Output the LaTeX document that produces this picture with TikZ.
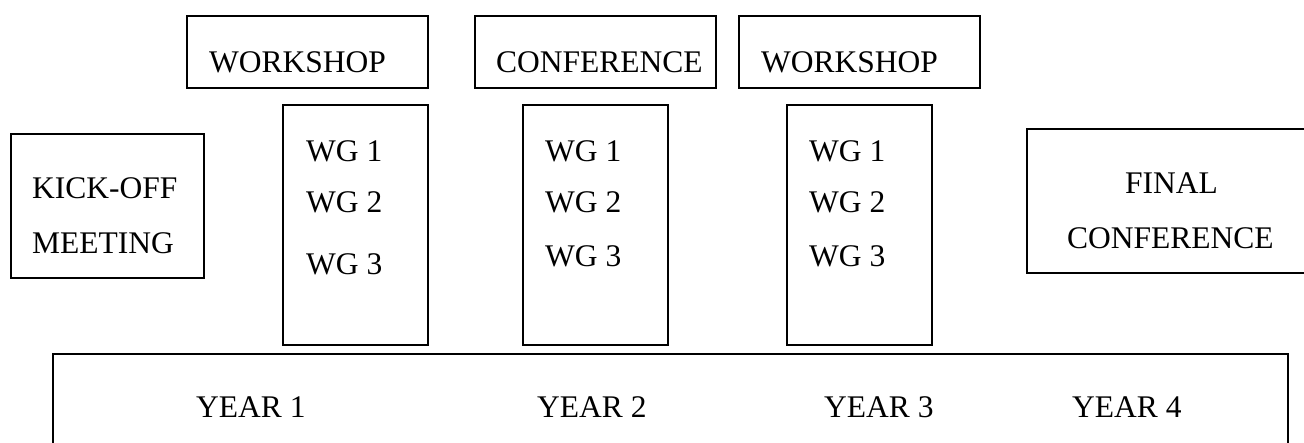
\documentclass[tikz,border=0pt]{standalone}
\usepackage{fontspec}
\setmainfont{Liberation Serif}
\begin{document}
\begin{tikzpicture}[x=1pt,y=-1pt,
  box/.style={draw,line width=1.6pt},
  lbl/.style={anchor=base west,inner sep=0pt,font=\fontsize{31.5}{38}\selectfont}]
\useasboundingbox (0,0) rectangle (1304,442);
% top boxes
\draw[box] (187,16) rectangle (428,88);
\draw[box] (475,16) rectangle (716,88);
\draw[box] (739,16) rectangle (980,88);
% WG boxes
\draw[box] (283,105) rectangle (428,345);
\draw[box] (523,105) rectangle (668,345);
\draw[box] (787,105) rectangle (932,345);
% kick-off and final
\draw[box] (11,134) rectangle (204,278);
\draw[box] (1305,129) -- (1027,129) -- (1027,273) -- (1305,273);
% years box (open at bottom)
\draw[box] (53,443) -- (53,354) -- (1288,354) -- (1288,443);
% labels
\node[lbl] (w1) at (209,72) {WORKSHOP};
\node[lbl] (c1) at (496,72) {CONFERENCE};
\node[lbl] (w2) at (761,72) {WORKSHOP};
\node[lbl] (k1) at (32,198) {KICK-OFF};
\node[lbl] (k2) at (32,253) {MEETING};
\node[lbl] (a1) at (306,161) {WG 1};
\node[lbl] (a2) at (306,212) {WG 2};
\node[lbl] (a3) at (306,274) {WG 3};
\node[lbl] (b1) at (545,161) {WG 1};
\node[lbl] (b2) at (545,212) {WG 2};
\node[lbl] (b3) at (545,266) {WG 3};
\node[lbl] (d1) at (809,161) {WG 1};
\node[lbl] (d2) at (809,212) {WG 2};
\node[lbl] (d3) at (809,266) {WG 3};
\node[lbl] (f1) at (1125,193) {FINAL};
\node[lbl] (f2) at (1067,248) {CONFERENCE};
\node[lbl] (y1) at (196,417) {YEAR 1};
\node[lbl] (y2) at (537,417) {YEAR 2};
\node[lbl] (y3) at (824,417) {YEAR 3};
\node[lbl] (y4) at (1072,417) {YEAR 4};
\end{tikzpicture}
\end{document}
